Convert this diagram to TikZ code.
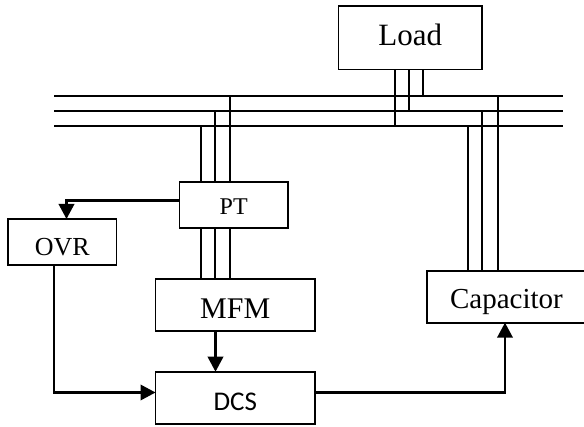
\documentclass[tikz,border=0pt]{standalone}
\usepackage{fontspec}
\setmainfont{Liberation Serif}
\newfontfamily\dcsfont{Carlito}
\usetikzlibrary{arrows.meta}
\tikzset{
  blockbox/.style={draw=black,line width=1.8pt,inner sep=0pt,outer sep=0pt,text=black,text height=0pt,text depth=0pt},
  wire/.style={draw=black,line width=1.6pt},
  sig/.style={draw=black,line width=2.1pt,-{Triangle[length=15pt,width=15.5pt]}},
}
\newcommand{\boxat}[8]{\node[blockbox,minimum width=#4 pt,minimum height=#5 pt,font=#6] (#1) at (#2,#3) {\raisebox{-#7pt}[0pt][0pt]{#8}};}
\begin{document}
\begin{tikzpicture}[x=1pt,y=-1pt]
\useasboundingbox (0,0) rectangle (584,427);
\boxat{load}{410.25}{37.75}{143.5}{63.5}{\fontsize{31}{31}\selectfont}{8}{Load}
\boxat{pt}{233.75}{205}{108.5}{46}{\fontsize{24}{24}\selectfont}{10}{PT}
\boxat{ovr}{62.25}{242}{108.5}{46}{\fontsize{26}{26}\selectfont}{13.5}{OVR}
\boxat{mfm}{235.25}{305}{159.5}{52}{\fontsize{30}{30}\selectfont}{14}{MFM}
\boxat{dcs}{235.25}{398}{159.5}{52.5}{\fontsize{27}{27}\selectfont\dcsfont}{12.7}{DCS}
\boxat{cap}{506.5}{296.75}{159}{52}{\fontsize{29}{29}\selectfont}{12.25}{Capacitor}
% bus
\coordinate (busAl) at (54,96);  \coordinate (busAr) at (563,96);
\coordinate (busBl) at (54,111); \coordinate (busBr) at (563,111);
\coordinate (busCl) at (54,126); \coordinate (busCr) at (563,126);
\draw[wire] (busAl) -- (busAr);
\draw[wire] (busBl) -- (busBr);
\draw[wire] (busCl) -- (busCr);
% PT taps
\foreach \x/\b in {201/busCl,215/busBl,230/busAl}{
  \coordinate (t) at (\x,0);
  \draw[wire] (t |- \b) -- (t |- pt.north);
  \draw[wire] (t |- pt.south) -- (t |- mfm.north);
}
% Load taps
\foreach \x/\b in {395/busCl,409/busBl,423/busAl}{
  \coordinate (t) at (\x,0);
  \draw[wire] (t |- load.south) -- (t |- \b);
}
% Capacitor taps
\foreach \x/\b in {468/busCl,482/busBl,498/busAl}{
  \coordinate (t) at (\x,0);
  \draw[wire] (t |- \b) -- (t |- cap.north);
}
% signals
\coordinate (ptout) at (179.5,200.5);
\coordinate (ovrin) at (66.5,219);
\draw[sig] (ptout) -- (ovrin |- ptout) -- (ovrin);
\coordinate (ovrout) at (54,265);
\coordinate (dcsin) at (155.5,392.5);
\draw[sig] (ovrout) -- (ovrout |- dcsin) -- (dcsin);
\coordinate (mfmout) at (215.5,331);
\coordinate (dcstop) at (215.5,371.7);
\draw[sig] (mfmout) -- (dcstop);
\coordinate (dcsout) at (315,392.5);
\coordinate (capin) at (505,322.7);
\draw[sig] (dcsout) -- (capin |- dcsout) -- (capin);
\end{tikzpicture}
\end{document}
